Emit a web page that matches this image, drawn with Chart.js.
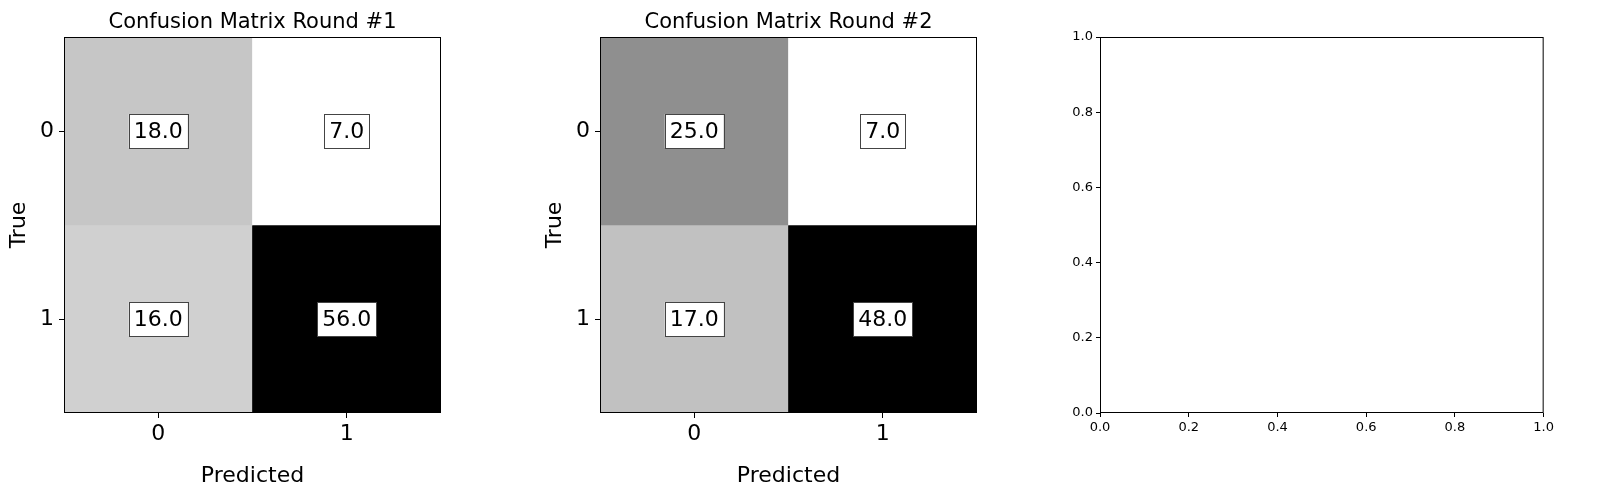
<!DOCTYPE html>
<html><head><meta charset="utf-8">
<script src="https://cdn.jsdelivr.net/npm/chart.js@4"></script>
<style>
body{margin:0;background:#fff;width:1600px;height:495px;position:relative;overflow:hidden}
canvas{position:absolute;top:0}
</style></head><body>
<canvas id="c1" style="left:0px" width="451" height="495"></canvas>
<canvas id="c2" style="left:536px" width="451" height="495"></canvas>
<canvas id="c3" style="left:1036px" width="521" height="495"></canvas>
<script>
const categories = ['0','1'];
const round1 = [[18,7],[16,56]];
const round2 = [[25,7],[17,48]];
const titles = ['Confusion Matrix Round #1','Confusion Matrix Round #2'];
const emptyTicks = [0,0.2,0.4,0.6,0.8,1.0];
const FONT = "'DejaVu Sans', sans-serif";

function grey(v,min,max){const t=(v-min)/(max-min);const g=Math.round(255*(1-t));return `rgb(${g},${g},${g})`;}

const framePlugin={id:'frame',afterDraw(ch){const a=ch.chartArea,c=ch.ctx;c.save();c.strokeStyle='#000';c.lineWidth=1;c.strokeRect(a.left+0.5,a.top+0.5,a.right-a.left-1,a.bottom-a.top-1);c.restore();}};
const titlePlugin={id:'ttl',afterDraw(ch,args,o){if(!o.text)return;const a=ch.chartArea,c=ch.ctx;c.save();c.font='21px '+FONT;c.fillStyle='#000';c.textAlign='center';c.textBaseline='alphabetic';c.fillText(o.text,(a.left+a.right)/2,28);c.restore();}};
const annPlugin={id:'ann',afterDatasetsDraw(ch,args,o){if(!o.m)return;const c=ch.ctx,xs=ch.scales.x,ys=ch.scales.y;c.save();c.font='22px '+FONT;c.textAlign='center';c.textBaseline='middle';
 o.m.forEach((row,i)=>row.forEach((v,j)=>{const x=xs.getPixelForValue(j),y=ys.getPixelForValue(i);const t=v.toFixed(1);const w=c.measureText(t).width+10,h=34;
 c.fillStyle='#fff';c.fillRect(x-w/2,y-h/2,w,h);c.strokeStyle='#444';c.lineWidth=1;c.strokeRect(Math.round(x-w/2)+0.5,Math.round(y-h/2)+0.5,Math.round(w),h);c.fillStyle='#000';c.fillText(t,x,y+1);}));c.restore();}};

function matrixChart(id,m,title){
 const all=m.flat(),mn=Math.min(...all),mx=Math.max(...all);
 const datasets=m.map((row,i)=>({data:row.map(()=>[i-0.5,i+0.5]),backgroundColor:row.map(v=>grey(v,mn,mx)),barPercentage:1,categoryPercentage:1,grouped:false,borderWidth:0}));
 new Chart(document.getElementById(id),{type:'bar',data:{labels:categories,datasets},
 options:{responsive:false,animation:false,events:[],layout:{padding:{left:0,top:37,right:10,bottom:0}},
 plugins:{legend:{display:false},tooltip:{enabled:false},ttl:{text:title},ann:{m}},
 scales:{
  x:{grid:{display:true,offset:false,drawOnChartArea:false,drawTicks:true,tickLength:5,color:'#000'},border:{display:false},
     ticks:{color:'#000',font:{size:22,family:FONT},padding:3,maxRotation:0},
     title:{display:true,text:'Predicted',color:'#000',font:{size:22,family:FONT},padding:{top:6,bottom:6}},
     afterFit(s){s.height=82;}},
  y:{type:'linear',min:-0.5,max:1.5,reverse:true,grid:{display:true,drawOnChartArea:false,drawTicks:true,tickLength:5,color:'#000'},border:{display:false},
     afterBuildTicks(s){s.ticks=[{value:0},{value:1}];},
     ticks:{color:'#000',font:{size:22,family:FONT},padding:5,callback:v=>String(v)},
     title:{display:true,text:'True',color:'#000',font:{size:22,family:FONT},padding:{top:6,bottom:6}},
     afterFit(s){s.width=64;}}
 }},plugins:[framePlugin,titlePlugin,annPlugin]});
}
matrixChart('c1',round1,titles[0]);
matrixChart('c2',round2,titles[1]);

new Chart(document.getElementById('c3'),{type:'scatter',data:{datasets:[{data:[]}]},
 options:{responsive:false,animation:false,events:[],layout:{padding:{left:0,top:37,right:10,bottom:0}},
 plugins:{legend:{display:false},tooltip:{enabled:false}},
 scales:{
  x:{type:'linear',min:0,max:1,grid:{display:true,drawOnChartArea:false,tickLength:4,color:'#000'},border:{display:false},
     afterBuildTicks(s){s.ticks=emptyTicks.map(v=>({value:v}));},
     ticks:{color:'#000',font:{size:13,family:FONT},padding:3,maxRotation:0,callback:v=>Number(v).toFixed(1)},afterFit(s){s.height=82;}},
  y:{type:'linear',min:0,max:1,grid:{display:true,drawOnChartArea:false,tickLength:4,color:'#000'},border:{display:false},
     afterBuildTicks(s){s.ticks=emptyTicks.map(v=>({value:v}));},
     ticks:{color:'#000',font:{size:13,family:FONT},padding:3,callback:v=>Number(v).toFixed(1)},afterFit(s){s.width=64;}}
 }},plugins:[framePlugin]});
</script></body></html>
